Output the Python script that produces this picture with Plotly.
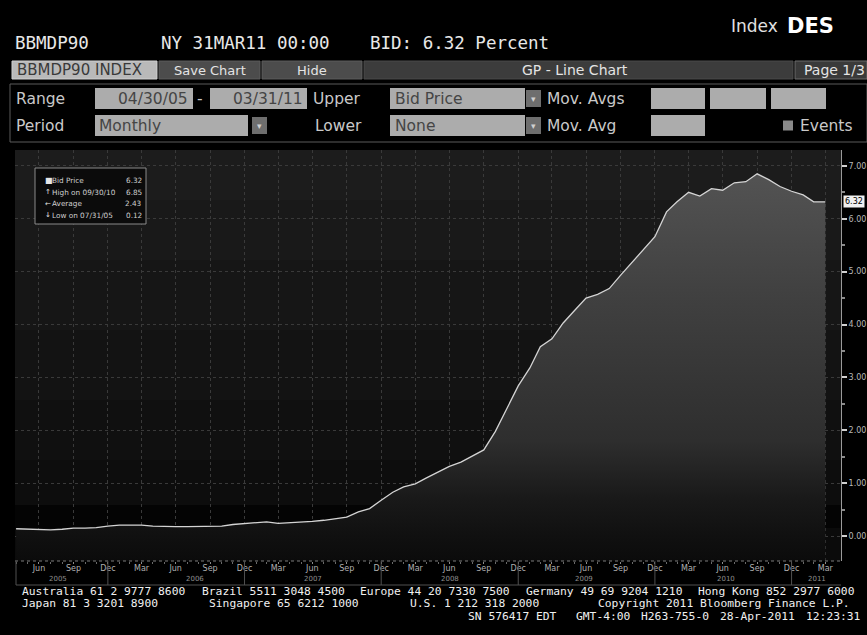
import calendar
import plotly.graph_objects as go

# ---------------- data ----------------
START_YEAR, START_MONTH, N_MONTHS = 2005, 4, 72

bid_price = [0.14, 0.13, 0.13, 0.12, 0.13, 0.15, 0.15, 0.16, 0.19, 0.21, 0.21, 0.21,
             0.19, 0.18, 0.18, 0.18, 0.18, 0.18, 0.19, 0.22, 0.24, 0.25, 0.27, 0.24,
             0.25, 0.27, 0.28, 0.30, 0.33, 0.36, 0.46, 0.52, 0.68, 0.83, 0.93, 0.99,
             1.10, 1.22, 1.32, 1.40, 1.51, 1.63, 1.98, 2.40, 2.84, 3.18, 3.58, 3.73,
             4.03, 4.27, 4.50, 4.57, 4.68, 4.93, 5.18, 5.43, 5.66, 6.13, 6.32, 6.50,
             6.43, 6.57, 6.54, 6.68, 6.70, 6.85, 6.74, 6.61, 6.52, 6.45, 6.32, 6.32]

month_abbr = ["Jan", "Feb", "Mar", "Apr", "May", "Jun", "Jul", "Aug", "Sep", "Oct", "Nov", "Dec"]
tick_months = [3, 6, 9, 12]
year_labels = ["2005", "2006", "2007", "2008", "2009", "2010", "2011"]
year_label_x = ["2005-08-20", "2006-08-20", "2007-07-01", "2008-07-01",
                "2009-06-25", "2010-07-10", "2011-03-09"]
year_separators = ["2005-12-31", "2006-12-31", "2007-12-31", "2008-12-31",
                   "2009-12-31", "2010-12-31"]
y_ticks = [0, 1, 2, 3, 4, 5, 6, 7]

legend_rows = [("\u25A0", "Bid Price", "6.32"),
               ("\u2191", "High on 09/30/10", "6.85"),
               ("\u2190", "Average", "2.43"),
               ("\u2193", "Low on 07/31/05", "0.12")]
last_label = "6.32"

# footer segments: (text, column in the terminal's fixed-width grid)
footer_line1 = [("Australia 61 2 9777 8600", 0), ("Brazil 5511 3048 4500", 25),
                ("Europe 44 20 7330 7500", 47), ("Germany 49 69 9204 1210", 70),
                ("Hong Kong 852 2977 6000", 94)]
footer_line2 = [("Japan 81 3 3201 8900", 0), ("Singapore 65 6212 1000", 26),
                ("U.S. 1 212 318 2000", 54), ("Copyright 2011 Bloomberg Finance L.P.", 80)]
footer_line3 = [("SN 576417 EDT", 62), ("GMT-4:00", 77), ("H263-755-0", 86),
                ("28-Apr-2011", 97), ("12:23:31", 109)]


def month_end(y, m):
    return f"{y:04d}-{m:02d}-{calendar.monthrange(y, m)[1]:02d}"


dates, months = [], []
y, m = START_YEAR, START_MONTH
for _ in range(N_MONTHS):
    dates.append(month_end(y, m))
    months.append(m)
    m += 1
    if m > 12:
        m, y = 1, y + 1

tickvals = [d for d, mm in zip(dates, months) if mm in tick_months]
ticktext = [month_abbr[mm - 1] for mm in months if mm in tick_months]

# ---------------- geometry helpers (pixels -> paper) ----------------
W, H = 867, 635
L, R, T, B = 15, 841, 150, 561
Y_MIN, Y_MAX = -0.47, 7.30
X_RANGE = ["2005-04-27", "2011-05-12"]


def px(x):
    return (x - L) / (R - L)


def py(yy):
    return (B - yy) / (B - T)


SANS = "DejaVu Sans, sans-serif"
MONO = "DejaVu Sans Mono, Liberation Mono, monospace"

shapes = []
annotations = []


def rect(x0, y0, x1, y1, fill, line=None, layer="above"):
    shapes.append(dict(type="rect", xref="paper", yref="paper",
                       x0=px(x0), x1=px(min(x1, W)), y0=py(y1), y1=py(y0),
                       fillcolor=fill, line=dict(width=1 if line else 0, color=line or fill),
                       layer=layer))


def text(x, yy, s, size=14, color="#d8d8d8", anchor="left", family=SANS, bold=False):
    if bold:
        s = f"<b>{s}</b>"
    annotations.append(dict(xref="paper", yref="paper", x=px(x), y=py(yy), text=s,
                            showarrow=False, xanchor=anchor, yanchor="middle", borderpad=0,
                            font=dict(family=family, size=size, color=color)))


# ---------------- plot background bands ----------------
bands = [(150, 200, "#1c1c1c"), (200, 260, "#191919"), (260, 330, "#161616"),
         (330, 400, "#131313"), (400, 460, "#101010"), (460, 505, "#0d0d0d"),
         (505, 528, "#040404"), (528, 561, "#0b0b0b")]
for y0, y1, c in bands:
    rect(L, y0, R, y1, c, layer="below")

# ---------------- traces ----------------
fig = go.Figure()
fig.add_trace(go.Scatter(x=dates, y=[Y_MIN] * len(dates), mode="lines",
                         line=dict(width=0), hoverinfo="skip", showlegend=False))
fig.add_trace(go.Scatter(
    x=dates, y=bid_price, mode="lines", fill="tonexty",
    line=dict(color="#d4d4d4", width=1.3),
    fillgradient=dict(type="vertical", start=Y_MIN, stop=6.85,
                      colorscale=[[0.0, "#0b0b0b"], [0.064, "#101010"], [0.16, "#191919"],
                                  [0.31, "#2e2e2e"], [0.68, "#404040"], [1.0, "#535353"]]),
    showlegend=False))

# ---------------- x-axis decorations ----------------
shapes.append(dict(type="line", xref="paper", yref="paper", x0=0, x1=1, y0=0, y1=0,
                   line=dict(color="#7a7a7a", width=1, dash="dot")))
shapes.append(dict(type="line", xref="paper", yref="paper", x0=px(16), x1=1,
                   y0=py(585), y1=py(585), line=dict(color="#505050", width=1)))
shapes.append(dict(type="line", xref="paper", yref="paper", x0=px(16), x1=px(16),
                   y0=py(561), y1=py(585), line=dict(color="#505050", width=1)))
for d in year_separators:
    shapes.append(dict(type="line", xref="x", yref="paper", x0=d, x1=d,
                       y0=py(561), y1=py(585), line=dict(color="#505050", width=1)))
for lab, xd in zip(year_labels, year_label_x):
    annotations.append(dict(xref="x", yref="paper", x=xd, y=py(579), text=lab,
                            showarrow=False, xanchor="center", yanchor="middle",
                            font=dict(family=SANS, size=7, color="#8e8e8e")))

# last value label on the axis
annotations.append(dict(xref="paper", yref="y", x=px(843), y=bid_price[-1], text=last_label,
                        showarrow=False, xanchor="left", yanchor="middle", bgcolor="#f0f0f0",
                        borderpad=1, font=dict(family=SANS, size=8, color="#000000")))

# ---------------- in-chart legend box ----------------
rect(35, 168, 146, 224, "#0b0b0b", line="#8a8a8a")
for k, (icon, lab, val) in enumerate(legend_rows):
    yy = 180.5 + k * 11.5
    text(44, yy, icon, size=7 if k else 8, color="#e6e6e6")
    text(50.5, yy, lab, size=7.3, color="#cfcfcf")
    text(143, yy, val, size=7.3, color="#cfcfcf", anchor="right")

# ---------------- header ----------------
text(730, 26, "Index", size=17, color="#e0e0e0")
text(786, 26, "DES", size=21, color="#ffffff", bold=True)
text(14, 43, "BBMDP90", size=17.5, color="#e8e8e8", family=MONO)
text(160, 43, "NY 31MAR11 00:00", size=17.5, color="#e8e8e8", family=MONO)
text(369, 43, "BID: 6.32 Percent", size=17.5, color="#e8e8e8", family=MONO)

# toolbar row
R2a, R2b = 61, 79
rect(12, R2a, 157, R2b, "#b9b9b9", line="#d0d0d0")
text(16, (R2a + R2b) / 2, "BBMDP90 INDEX", size=15, color="#3a3a3a")
rect(159, R2a, 260, R2b, "#4c4c4c", line="#5c5c5c")
text(209.5, (R2a + R2b) / 2, "Save Chart", size=13, color="#e4e4e4", anchor="center")
rect(262, R2a, 362, R2b, "#4c4c4c", line="#5c5c5c")
text(312, (R2a + R2b) / 2, "Hide", size=13, color="#e4e4e4", anchor="center")
rect(364, R2a, 793, R2b, "#3c3c3c", line="#4a4a4a")
text(575, (R2a + R2b) / 2, "GP - Line Chart", size=14, color="#e4e4e4", anchor="center")
rect(795, R2a, 880, R2b, "#3a3a3a", line="#6a6a6a")
text(803, (R2a + R2b) / 2, "Page 1/3", size=14, color="#e4e4e4")

# panel
rect(10, 84, 880, 142, "#000000", line="#5a5a5a")
R3a, R3b = 88, 109
R4a, R4b = 115, 136
r3, r4 = (R3a + R3b) / 2, (R4a + R4b) / 2
LAB = "#c9c9c9"
BOX = "#acacac"
BOXT = "#454545"
FS = 15.5
text(15, r3, "Range", size=FS, color=LAB)
rect(95, R3a, 193, R3b, BOX)
text(189, r3, "04/30/05", size=FS, color=BOXT, anchor="right")
text(200, r3, "-", size=FS, color=LAB, anchor="center")
rect(210, R3a, 307, R3b, BOX)
text(304, r3, "03/31/11", size=FS, color=BOXT, anchor="right")
text(312, r3, "Upper", size=FS, color=LAB)
rect(390, R3a, 525, R3b, BOX)
text(394, r3, "Bid Price", size=FS, color=BOXT)
rect(526, R3a + 2, 541, R3b - 2, "#6e6e6e")
text(533.5, r3, "\u25BE", size=9, color="#d0d0d0", anchor="center")
text(546, r3, "Mov. Avgs", size=FS, color=LAB)
for x0, x1 in [(651, 705), (710, 766), (771, 826)]:
    rect(x0, R3a, x1, R3b, BOX)

text(15, r4, "Period", size=FS, color=LAB)
rect(95, R4a, 248, R4b, BOX)
text(98, r4, "Monthly", size=FS, color=BOXT)
rect(252, R4a + 2, 267, R4b - 2, "#6e6e6e")
text(259.5, r4, "\u25BE", size=9, color="#d0d0d0", anchor="center")
text(363, r4, "Lower", size=FS, color=LAB, anchor="right")
rect(390, R4a, 525, R4b, BOX)
text(394, r4, "None", size=FS, color=BOXT)
rect(526, R4a + 2, 541, R4b - 2, "#6e6e6e")
text(533.5, r4, "\u25BE", size=9, color="#d0d0d0", anchor="center")
text(546, r4, "Mov. Avg", size=FS, color=LAB)
rect(651, R4a, 705, R4b, BOX)
rect(783, r4 - 5, 793, r4 + 5, "#8a8a8a")
text(799, r4, "Events", size=FS, color=LAB)

# ---------------- footer ----------------
COL0, COLW = 20.5, 7.2
for line_segments, yy in [(footer_line1, 591.5), (footer_line2, 603.8), (footer_line3, 616)]:
    for s, col in line_segments:
        text(COL0 + col * COLW, yy, s, size=11.3, color="#f0f0f0", family=MONO)

# ---------------- layout ----------------
fig.update_layout(
    width=W, height=H,
    margin=dict(l=L, r=W - R, t=T, b=H - B, pad=0, autoexpand=False),
    paper_bgcolor="#000000", plot_bgcolor="#0d0d0d",
    showlegend=False,
    shapes=shapes, annotations=annotations,
    xaxis=dict(type="date", range=X_RANGE, tickmode="array", tickvals=tickvals,
               ticktext=ticktext, ticks="outside", ticklen=2, tickcolor="#8a8a8a",
               ticklabelstandoff=-3, automargin=False,
               tickfont=dict(family=SANS, size=8, color="#b0b0b0"),
               showgrid=True, gridcolor="#3a3a3a", griddash="dot", gridwidth=1,
               minor=dict(tickmode="array", tickvals=dates, ticks="outside", ticklen=2,
                          tickcolor="#6a6a6a", showgrid=False),
               zeroline=False, showline=False, fixedrange=True),
    yaxis=dict(side="right", range=[Y_MIN, Y_MAX], tickmode="array", tickvals=y_ticks,
               ticktext=[f"{v:.2f}" for v in y_ticks], ticks="outside", ticklen=5,
               tickwidth=2, tickcolor="#d0d0d0", automargin=False,
               tickfont=dict(family=SANS, size=8, color="#b8b8b8"),
               showgrid=True, gridcolor="#3a3a3a", griddash="dot", gridwidth=1,
               minor=dict(dtick=0.5, ticks="outside", ticklen=3, tickcolor="#8a8a8a",
                          showgrid=False),
               showline=True, linecolor="#9a9a9a", linewidth=1,
               zeroline=False, fixedrange=True),
)

fig.write_html("out.html", config={"displayModeBar": False},
               post_script="document.documentElement.style.overflow='hidden';"
                           "document.body.style.margin='0px';"
                           "document.body.style.overflow='hidden';")
